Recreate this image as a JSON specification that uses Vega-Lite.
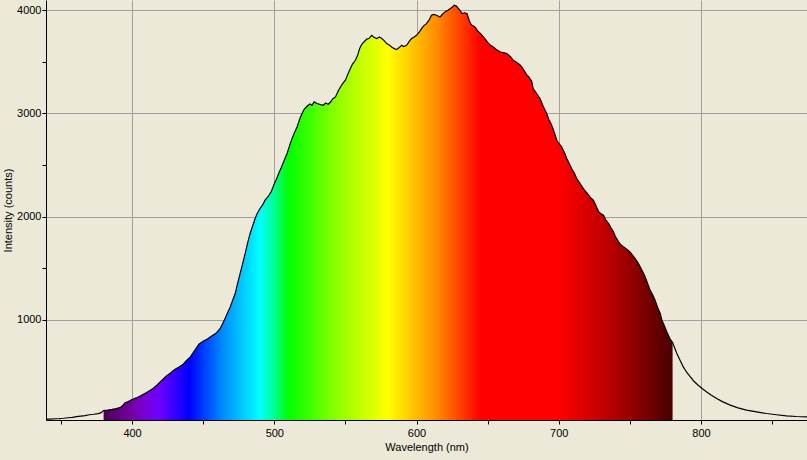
{
  "$schema": "https://vega.github.io/schema/vega-lite/v6.json",
  "width": 761,
  "height": 420,
  "autosize": {"type": "none"},
  "padding": {"left": 46, "top": 0, "right": 0, "bottom": 40},
  "background": "#ECE9D8",
  "config": {
    "view": {"stroke": null},
    "font": "Liberation Sans",
    "axis": {
      "domainColor": "#000000",
      "domainWidth": 1,
      "tickColor": "#000000",
      "tickSize": 4,
      "tickWidth": 1,
      "gridColor": "#a0a0a0",
      "gridWidth": 1,
      "labelFont": "Liberation Sans",
      "labelFontSize": 11,
      "labelColor": "#000000",
      "titleFont": "Liberation Sans",
      "titleFontSize": 11,
      "titleFontWeight": "normal",
      "titleColor": "#000000"
    }
  },
  "data": {
    "values": [
      {"wl": 339.5, "counts": 36}, {"wl": 343, "counts": 37}, {"wl": 346, "counts": 40}, {"wl": 349, "counts": 41},
      {"wl": 352, "counts": 45}, {"wl": 355, "counts": 50}, {"wl": 358, "counts": 54}, {"wl": 361, "counts": 61},
      {"wl": 364, "counts": 66}, {"wl": 367, "counts": 71}, {"wl": 370, "counts": 79}, {"wl": 373, "counts": 84},
      {"wl": 376, "counts": 90}, {"wl": 378, "counts": 97}, {"wl": 380, "counts": 120}, {"wl": 383, "counts": 124},
      {"wl": 386, "counts": 131}, {"wl": 389, "counts": 139}, {"wl": 392, "counts": 152}, {"wl": 394, "counts": 176},
      {"wl": 395, "counts": 195}, {"wl": 397, "counts": 204}, {"wl": 400, "counts": 227}, {"wl": 403, "counts": 242},
      {"wl": 406, "counts": 262}, {"wl": 409, "counts": 285}, {"wl": 412, "counts": 309}, {"wl": 415, "counts": 336},
      {"wl": 418, "counts": 372}, {"wl": 421, "counts": 414}, {"wl": 424, "counts": 452}, {"wl": 427, "counts": 484},
      {"wl": 430, "counts": 518}, {"wl": 433, "counts": 541}, {"wl": 436, "counts": 569}, {"wl": 438, "counts": 602},
      {"wl": 441, "counts": 640}, {"wl": 444, "counts": 701}, {"wl": 447, "counts": 764}, {"wl": 450, "counts": 792},
      {"wl": 453, "counts": 813}, {"wl": 456, "counts": 842}, {"wl": 459, "counts": 868}, {"wl": 462, "counts": 915},
      {"wl": 465, "counts": 1000}, {"wl": 467, "counts": 1062}, {"wl": 469, "counts": 1124}, {"wl": 471, "counts": 1198},
      {"wl": 472.5, "counts": 1254}, {"wl": 474, "counts": 1340}, {"wl": 476, "counts": 1450}, {"wl": 478, "counts": 1558},
      {"wl": 479.5, "counts": 1642}, {"wl": 481, "counts": 1731}, {"wl": 483, "counts": 1836}, {"wl": 485, "counts": 1918},
      {"wl": 486.5, "counts": 1981}, {"wl": 488, "counts": 2031}, {"wl": 490, "counts": 2078}, {"wl": 492, "counts": 2118},
      {"wl": 493.5, "counts": 2159}, {"wl": 496, "counts": 2201}, {"wl": 498, "counts": 2245}, {"wl": 500, "counts": 2318},
      {"wl": 501.5, "counts": 2362}, {"wl": 503.5, "counts": 2433}, {"wl": 505, "counts": 2478}, {"wl": 506.5, "counts": 2530},
      {"wl": 508, "counts": 2581}, {"wl": 509, "counts": 2611}, {"wl": 511, "counts": 2700}, {"wl": 512.5, "counts": 2757},
      {"wl": 514, "counts": 2808}, {"wl": 516, "counts": 2869}, {"wl": 518, "counts": 2951}, {"wl": 519.5, "counts": 2999},
      {"wl": 521, "counts": 3040}, {"wl": 523, "counts": 3070}, {"wl": 525, "counts": 3092}, {"wl": 526.5, "counts": 3079},
      {"wl": 528, "counts": 3112}, {"wl": 530, "counts": 3096}, {"wl": 532, "counts": 3088}, {"wl": 534.5, "counts": 3079},
      {"wl": 536, "counts": 3101}, {"wl": 538, "counts": 3089}, {"wl": 539.5, "counts": 3111}, {"wl": 541, "counts": 3140},
      {"wl": 543, "counts": 3160}, {"wl": 545, "counts": 3221}, {"wl": 546.5, "counts": 3257}, {"wl": 548, "counts": 3289},
      {"wl": 550, "counts": 3322}, {"wl": 552, "counts": 3391}, {"wl": 553.5, "counts": 3435}, {"wl": 555, "counts": 3479},
      {"wl": 557, "counts": 3516}, {"wl": 558.5, "counts": 3561}, {"wl": 560, "counts": 3629}, {"wl": 561.5, "counts": 3669},
      {"wl": 563, "counts": 3693}, {"wl": 565, "counts": 3721}, {"wl": 566.5, "counts": 3726}, {"wl": 568.5, "counts": 3758},
      {"wl": 570, "counts": 3739}, {"wl": 572, "counts": 3726}, {"wl": 574, "counts": 3741}, {"wl": 575.5, "counts": 3726},
      {"wl": 577, "counts": 3709}, {"wl": 579, "counts": 3677}, {"wl": 581, "counts": 3661}, {"wl": 582.5, "counts": 3645},
      {"wl": 584, "counts": 3631}, {"wl": 586, "counts": 3619}, {"wl": 588, "counts": 3641}, {"wl": 589.5, "counts": 3661},
      {"wl": 591, "counts": 3649}, {"wl": 593, "counts": 3661}, {"wl": 595, "counts": 3701}, {"wl": 596.5, "counts": 3726},
      {"wl": 598, "counts": 3739}, {"wl": 600, "counts": 3758}, {"wl": 602, "counts": 3791}, {"wl": 603.5, "counts": 3823},
      {"wl": 605, "counts": 3849}, {"wl": 607, "counts": 3871}, {"wl": 609, "counts": 3909}, {"wl": 610.5, "counts": 3952},
      {"wl": 612, "counts": 3961}, {"wl": 614, "counts": 3952}, {"wl": 616.5, "counts": 3935}, {"wl": 618, "counts": 3959},
      {"wl": 620, "counts": 3984}, {"wl": 622, "counts": 4001}, {"wl": 623.5, "counts": 4016}, {"wl": 625, "counts": 4029},
      {"wl": 626.5, "counts": 4049}, {"wl": 628, "counts": 4041}, {"wl": 629.5, "counts": 4016}, {"wl": 631, "counts": 3989},
      {"wl": 632, "counts": 3968}, {"wl": 634, "counts": 3976}, {"wl": 635.5, "counts": 3968}, {"wl": 637, "counts": 3901},
      {"wl": 638.5, "counts": 3861}, {"wl": 641, "counts": 3838}, {"wl": 643, "counts": 3801}, {"wl": 645, "counts": 3774},
      {"wl": 646.5, "counts": 3749}, {"wl": 648, "counts": 3726}, {"wl": 650, "counts": 3689}, {"wl": 652, "counts": 3661},
      {"wl": 654, "counts": 3645}, {"wl": 656, "counts": 3621}, {"wl": 659, "counts": 3596}, {"wl": 661, "counts": 3589},
      {"wl": 663.5, "counts": 3580}, {"wl": 666, "counts": 3551}, {"wl": 668, "counts": 3516}, {"wl": 670, "counts": 3499},
      {"wl": 673, "counts": 3467}, {"wl": 675, "counts": 3431}, {"wl": 677.5, "counts": 3375}, {"wl": 679, "counts": 3352},
      {"wl": 681, "counts": 3310}, {"wl": 682, "counts": 3241}, {"wl": 684.5, "counts": 3191}, {"wl": 686.8, "counts": 3144},
      {"wl": 689, "counts": 3069}, {"wl": 691.5, "counts": 2999}, {"wl": 693, "counts": 2941}, {"wl": 695, "counts": 2886},
      {"wl": 697, "counts": 2809}, {"wl": 698.6, "counts": 2740}, {"wl": 700, "counts": 2711}, {"wl": 702, "counts": 2676},
      {"wl": 704, "counts": 2619}, {"wl": 705.6, "counts": 2563}, {"wl": 707.5, "counts": 2511}, {"wl": 709, "counts": 2466},
      {"wl": 711, "counts": 2421}, {"wl": 712.6, "counts": 2369}, {"wl": 715, "counts": 2319}, {"wl": 717.3, "counts": 2272},
      {"wl": 719, "counts": 2241}, {"wl": 721, "counts": 2207}, {"wl": 722.5, "counts": 2181}, {"wl": 724.3, "counts": 2159},
      {"wl": 726, "counts": 2109}, {"wl": 728, "counts": 2046}, {"wl": 729.5, "counts": 2031}, {"wl": 731.4, "counts": 2013},
      {"wl": 733, "counts": 1969}, {"wl": 735, "counts": 1933}, {"wl": 736.5, "counts": 1896}, {"wl": 738.4, "counts": 1852},
      {"wl": 740, "counts": 1801}, {"wl": 742, "counts": 1755}, {"wl": 743.5, "counts": 1729}, {"wl": 745.4, "counts": 1707},
      {"wl": 748, "counts": 1681}, {"wl": 750, "counts": 1658}, {"wl": 752, "counts": 1624}, {"wl": 753.7, "counts": 1594},
      {"wl": 755.5, "counts": 1556}, {"wl": 757.2, "counts": 1513}, {"wl": 759, "counts": 1466}, {"wl": 760.7, "counts": 1416},
      {"wl": 762.5, "counts": 1349}, {"wl": 764.2, "counts": 1287}, {"wl": 766, "counts": 1241}, {"wl": 767.7, "counts": 1190},
      {"wl": 769.5, "counts": 1119}, {"wl": 771.3, "counts": 1061}, {"wl": 772.5, "counts": 996}, {"wl": 774, "counts": 949},
      {"wl": 776, "counts": 882}, {"wl": 778, "counts": 821}, {"wl": 780, "counts": 778}, {"wl": 783, "counts": 673},
      {"wl": 785.5, "counts": 601}, {"wl": 787.5, "counts": 543}, {"wl": 790, "counts": 489}, {"wl": 792.5, "counts": 446},
      {"wl": 795, "counts": 404}, {"wl": 798, "counts": 365}, {"wl": 801, "counts": 331}, {"wl": 804, "counts": 300},
      {"wl": 807, "counts": 271}, {"wl": 811, "counts": 236}, {"wl": 815, "counts": 206}, {"wl": 820.5, "counts": 172},
      {"wl": 826, "counts": 146}, {"wl": 832, "counts": 123}, {"wl": 839, "counts": 106}, {"wl": 846, "counts": 91},
      {"wl": 853, "counts": 79}, {"wl": 860, "counts": 68}, {"wl": 867, "counts": 62}, {"wl": 874.5, "counts": 58}
    ]
  },
  "encoding": {
    "x": {
      "field": "wl",
      "type": "quantitative",
      "scale": {"domain": [339.5, 874.5], "nice": false, "zero": false},
      "axis": {
        "title": "Wavelength (nm)",
        "values": [350, 400, 450, 500, 550, 600, 650, 700, 750, 800, 850],
        "labelExpr": "datum.value % 100 === 0 ? datum.label : ''",
        "gridOpacity": {"condition": {"test": "datum.value % 100 === 0", "value": 1}, "value": 0},
        "grid": true,
        "labelPadding": 3,
        "titlePadding": 3,
        "labelFlush": false,
        "labelOverlap": false
      }
    },
    "y": {
      "field": "counts",
      "type": "quantitative",
      "scale": {"domain": [28, 4100], "nice": false, "zero": false},
      "axis": {
        "title": "Intensity (counts)",
        "values": [1000, 1500, 2000, 2500, 3000, 3500, 4000],
        "labelExpr": "datum.value % 1000 === 0 ? datum.label : ''",
        "gridOpacity": {"condition": {"test": "datum.value % 1000 === 0", "value": 1}, "value": 0},
        "grid": true,
        "format": "d",
        "labelPadding": 1,
        "titlePadding": 3,
        "labelFlush": false,
        "labelOverlap": false
      }
    }
  },
  "layer": [
    {
      "transform": [{"filter": "datum.wl >= 380 && datum.wl <= 780"}],
      "mark": {
        "type": "area",
        "interpolate": "linear",
        "color": {
          "gradient": "linear",
          "x1": 0, "x2": 1, "y1": 0, "y2": 0,
          "stops": [
            {"offset": 0, "color": "#4a0050"},
            {"offset": 0.05, "color": "#7400a8"},
            {"offset": 0.075, "color": "#7800da"},
            {"offset": 0.1, "color": "#6a00ff"},
            {"offset": 0.15, "color": "#0000ff"},
            {"offset": 0.2125, "color": "#0092ff"},
            {"offset": 0.275, "color": "#00ffff"},
            {"offset": 0.3, "color": "#00ff92"},
            {"offset": 0.325, "color": "#00ff00"},
            {"offset": 0.4125, "color": "#92ff00"},
            {"offset": 0.5, "color": "#ffff00"},
            {"offset": 0.58125, "color": "#ff9200"},
            {"offset": 0.6625, "color": "#ff0000"},
            {"offset": 0.8, "color": "#ff0000"},
            {"offset": 0.9, "color": "#b00000"},
            {"offset": 0.95, "color": "#7a0000"},
            {"offset": 1, "color": "#480000"}
          ]
        }
      },
      "encoding": {"y2": {"datum": 28}}
    },
    {
      "mark": {"type": "line", "color": "#000000", "strokeWidth": 1.2, "interpolate": "linear"},
      "encoding": {}
    }
  ]
}
